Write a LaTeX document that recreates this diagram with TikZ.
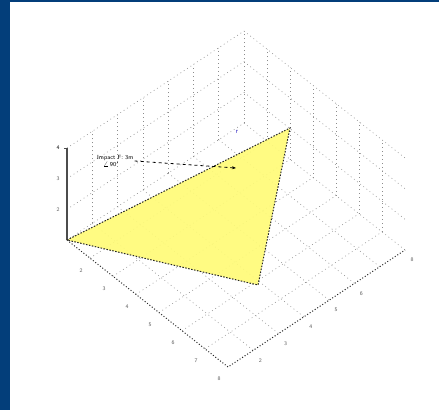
\documentclass[tikz,border=0pt]{standalone}
\usepackage{tikz}
\usetikzlibrary{arrows.meta}
\definecolor{FrameBlue}{RGB}{3,62,122}
\definecolor{FaceYellow}{RGB}{255,251,120}
\definecolor{MarkBlue}{RGB}{70,60,200}
\begin{document}
\begin{tikzpicture}[x=1pt,y=-1pt,
    >={Stealth[length=4pt]},
    grid/.style={dash pattern=on 0.8pt off 3.2pt,draw=black!45,line width=0.6pt},
    axisline/.style={dash pattern=on 1pt off 2pt,draw=black!85,line width=1pt},
    ticklab/.style={font=\sffamily\fontsize{5.5}{6}\selectfont,text=black!65,inner sep=0pt},
    face/.style={fill=FaceYellow,fill opacity=0.92,draw=black!85,dash pattern=on 1.5pt off 1.5pt,line width=1pt},
    note/.style={font=\sffamily\fontsize{6}{7.5}\selectfont,align=left,inner sep=1pt},
    arrow/.style={->,dashed,line width=0.8pt,draw=black}]
  \useasboundingbox (0,0) rectangle (439,410);
  \fill[white] (0,0) rectangle (439,410);
  \fill[FrameBlue] (0,0) rectangle (10,410);
  \fill[FrameBlue] (0,0) rectangle (439,1.5);
  \begin{scope}[shift={(67,240)},x={(23pt,-18.14pt)},y={(25.29pt,16.71pt)},z={(0pt,30.67pt)}]
    \foreach \k in {0,...,6}
      \draw[grid] (\k,0,0) -- (\k,7,0);
    \foreach \k in {1,...,7} {
      \draw[grid] (0,\k,0) -- (7,\k,0);
      \draw[grid] (0,\k,0) -- (0,\k,3);
    }
    \foreach \k in {1,...,6}
      \draw[grid] (\k,7,0) -- (\k,7,3);
    \foreach \h in {1,2,3} {
      \draw[grid] (0,0,\h) -- (0,7,\h);
      \draw[grid] (0,7,\h) -- (7,7,\h);
    }
    \draw[axisline] (0,0,0) -- (7,0,0) -- (7,7,0);
    \draw[black!70,line width=1.2pt] (0,0,0) -- (0,0,3);
    \draw[black!70,line width=0.6pt] (0,0,3) -- +(-3pt,0pt);
    \foreach \k [evaluate=\k as \v using int(\k+1)] in {1,...,7}
      \node[ticklab] (u\k) at ([xshift=-9pt,yshift=-12pt]\k,0,0) {\v};
    \foreach \k [evaluate=\k as \v using int(\k+1)] in {1,2,3,4,5,7}
      \node[ticklab] (v\k) at ([xshift=7pt,yshift=-10pt]7,\k,0) {\v};
    \node[ticklab] (z2) at ([xshift=-9pt]0,0,1) {2};
    \node[ticklab] (z3) at ([xshift=-9pt]0,0,2) {3};
    \node[ticklab,text=black] (z4) at ([xshift=-9pt]0,0,3) {4};
  \end{scope}
  \coordinate (p1) at (67,240);
  \coordinate (p2) at (290,128);
  \coordinate (p3) at (258,285);
  \draw[face] (p1) -- (p2) -- (p3) -- cycle;
  \node[note,anchor=west] (impact) at (96,161) {Impact F: 3m\\ \hspace*{6pt}$\angle$\,90$'$};
  \coordinate (tip) at (236,168);
  \draw[arrow] (impact.east) -- (tip);
  \node[text=MarkBlue,font=\sffamily\fontsize{7}{7}\selectfont,inner sep=0pt] (rmark) at (237,132) {r};
\end{tikzpicture}
\end{document}
